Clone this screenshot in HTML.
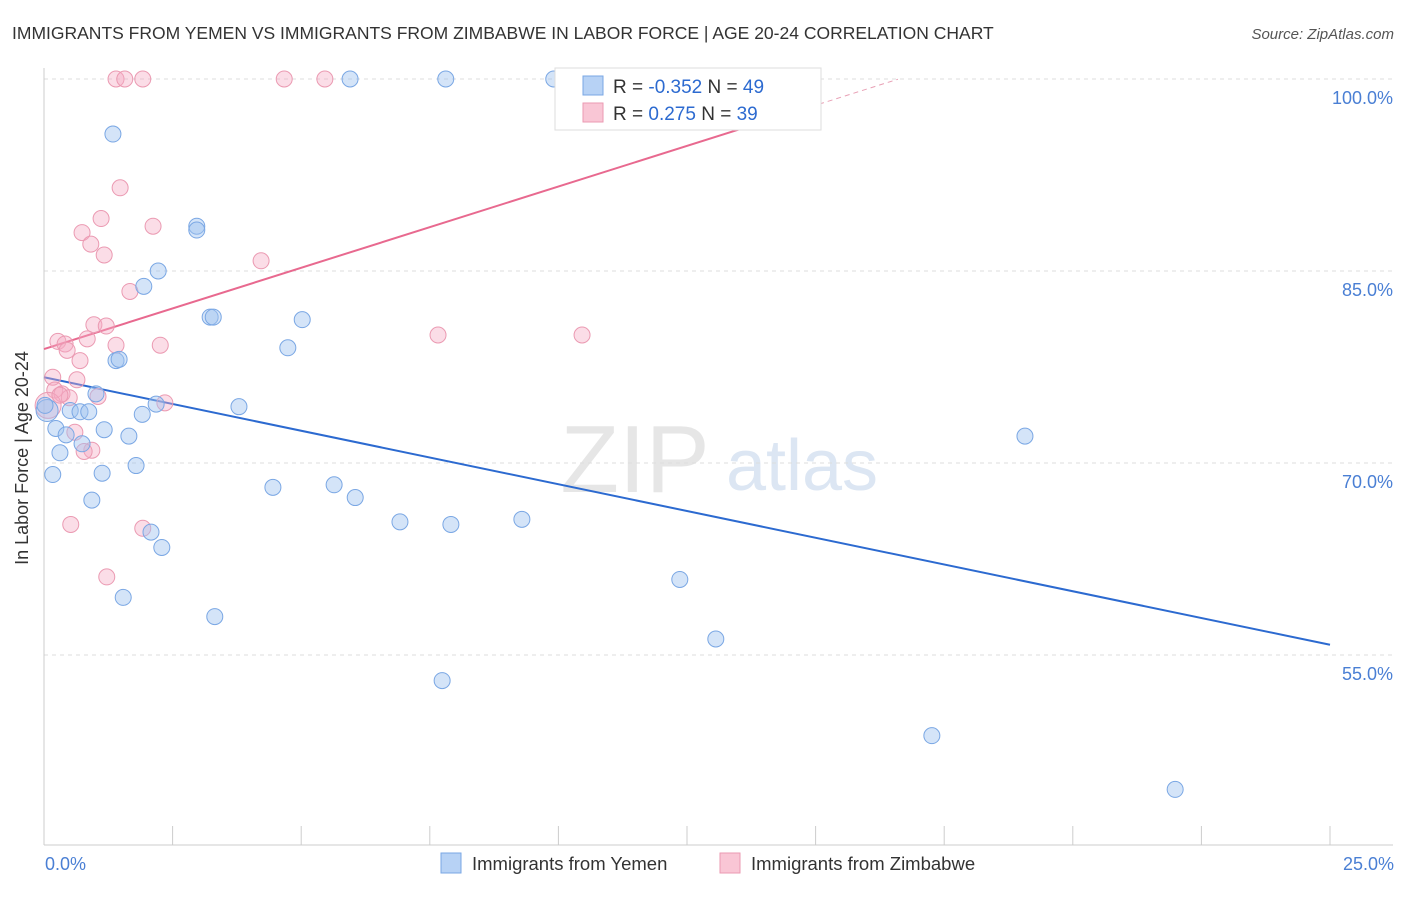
<!DOCTYPE html>
<html><head><meta charset="utf-8"><style>
body{margin:0;background:#fff;font-family:"Liberation Sans",sans-serif;}
svg text{font-family:"Liberation Sans",sans-serif;}
</style></head><body>
<svg width="1406" height="892" viewBox="0 0 1406 892">
<text x="12" y="39" font-size="17.5" fill="#333">IMMIGRANTS FROM YEMEN VS IMMIGRANTS FROM ZIMBABWE IN LABOR FORCE | AGE 20-24 CORRELATION CHART</text>
<text x="1394" y="39" font-size="15" fill="#555" font-style="italic" text-anchor="end">Source: ZipAtlas.com</text>
<g>
<text x="635" y="492" font-size="96" fill="#e6e6e6" font-family="Liberation Serif" text-anchor="middle">ZIP</text>
<text x="802" y="490" font-size="72" fill="#dce6f3" text-anchor="middle">atlas</text>
</g>
<g id="grid"></g>
<g id="axes"></g>
<g id="trends"></g>
<g id="points"></g>
<text x="28" y="458" font-size="18" fill="#333" text-anchor="middle" transform="rotate(-90 28 458)">In Labor Force | Age 20-24</text>
<text x="45" y="870" font-size="18" fill="#4a7fd4">0.0%</text>
<text x="1394" y="870" font-size="18" fill="#4a7fd4" text-anchor="end">25.0%</text>
<g>
<rect x="555" y="68" width="266" height="62" fill="#fff" stroke="#ddd"/>
<rect x="583" y="76" width="20" height="19" fill="#b7d2f5" stroke="#7aa7e4"/>
<rect x="583" y="103" width="20" height="19" fill="#f9c6d5" stroke="#eb9ab2"/>
<text x="613" y="93" font-size="19" fill="#333">R = <tspan fill="#2c6ad0">-0.352</tspan>   N = <tspan fill="#2c6ad0">49</tspan></text>
<text x="613" y="120" font-size="19" fill="#333">R =   <tspan fill="#2c6ad0">0.275</tspan>   N = <tspan fill="#2c6ad0">39</tspan></text>
</g>
<g>
<rect x="441" y="853" width="20" height="20" fill="#b7d2f5" stroke="#7aa7e4"/>
<text x="472" y="870" font-size="18.5" fill="#333">Immigrants from Yemen</text>
<rect x="720" y="853" width="20" height="20" fill="#f9c6d5" stroke="#eb9ab2"/>
<text x="751" y="870" font-size="18.5" fill="#333">Immigrants from Zimbabwe</text>
</g>
</svg>
<script>
const yTicks=[100,85,70,55];
const yTickLabels=["100.0%","85.0%","70.0%","55.0%"];
const xTicks=[0,2.5,5,7.5,10,12.5,15,17.5,20,22.5,25];
const yemenX=[1.34,5.95,7.81,9.91,2.97,2.97,2.22,1.94,3.23,3.29,5.02,4.74,1.40,1.46,1.01,2.18,3.79,1.91,0.51,0.70,0.87,0.23,0.43,1.17,1.65,0.31,0.74,0.17,1.13,1.79,0.93,4.45,5.64,6.05,6.92,7.91,9.29,2.08,2.29,1.54,3.32,12.36,13.06,7.74,17.26,21.99,19.07,0.06,0.02];
const yemenY=[95.7,100,100,100,88.5,88.2,85.0,83.8,81.4,81.4,81.2,79.0,78.0,78.1,75.4,74.6,74.4,73.8,74.1,74.0,74.0,72.7,72.2,72.6,72.1,70.8,71.5,69.1,69.2,69.8,67.1,68.1,68.3,67.3,65.4,65.2,65.6,64.6,63.4,59.5,58.0,60.9,56.25,53.0,48.7,44.5,72.1,74.1,74.5];
const zimX=[1.40,1.57,1.92,4.67,5.46,1.48,1.11,2.12,0.74,0.91,1.17,4.22,1.67,0.97,1.21,0.27,0.41,0.84,1.40,2.26,0.45,0.70,7.66,10.46,0.17,0.64,0.21,0.35,0.49,1.05,2.35,0.60,0.93,0.78,0.52,1.92,1.22,0.08,0.31];
const zimY=[100,100,100,100,100,91.5,89.1,88.5,88.0,87.1,86.25,85.8,83.4,80.8,80.7,79.5,79.3,79.7,79.2,79.2,78.8,78.0,80.0,80.0,76.7,76.5,75.7,75.4,75.1,75.2,74.7,72.4,71.0,70.9,65.2,64.9,61.1,74.5,75.3];
const yemenTrend=[76.7,55.8]; // y at x=0 and x=25
const zimTrend=[78.9,1.27,13.9,16.6]; // intercept, slope, solid end x, dashed end x
const NS="http://www.w3.org/2000/svg";
const X=v=>44+v*51.44, Y=v=>79+(100-v)*12.8;
function mk(p,tag,a){const e=document.createElementNS(NS,tag);for(const k in a)e.setAttribute(k,a[k]);document.getElementById(p).appendChild(e);return e;}
yTicks.forEach((t,i)=>{
 const l=mk('grid','line',{x1:44,x2:1393,y1:Y(t),y2:Y(t),stroke:'#ddd','stroke-dasharray':'4,4'});
 
 
 const tx=mk('grid','text',{x:1393,y:Y(t)+25,'font-size':18,fill:'#4a7fd4','text-anchor':'end'});
 tx.textContent=yTickLabels[i];
 
 
});
const ax=mk('axes','line',{x1:44,x2:1393,y1:845,y2:845,stroke:'#ccc'});


const ay=mk('axes','line',{x1:44,x2:44,y1:68,y2:845,stroke:'#ccc'});


xTicks.forEach(t=>{
 const l=mk('axes','line',{x1:X(t),x2:X(t),y1:826,y2:845,stroke:'#ccc'});
 
 
});
const bt=mk('trends','line',{x1:X(0),y1:Y(yemenTrend[0]),x2:X(25),y2:Y(yemenTrend[1]),stroke:'#2c6ad0','stroke-width':2});


const zy=x=>zimTrend[0]+zimTrend[1]*x;
const pt=mk('trends','line',{x1:X(0),y1:Y(zy(0)),x2:X(zimTrend[2]),y2:Y(zy(zimTrend[2])),stroke:'#e8698f','stroke-width':2});


const pd=mk('trends','line',{x1:X(zimTrend[2]),y1:Y(zy(zimTrend[2])),x2:X(zimTrend[3]),y2:Y(zy(zimTrend[3])),stroke:'#e8a0b5','stroke-width':1,'stroke-dasharray':'5,4'});


zimX.forEach((x,i)=>{
 const r=(i==37)?13:8;
 const c=mk('points','circle',{cx:X(x),cy:Y(zimY[i]),r:r,fill:'rgba(245,170,195,0.4)',stroke:'#eb9ab2','stroke-width':1});
 
 
});
yemenX.forEach((x,i)=>{
 const r=(i==47)?11:8;
 const c=mk('points','circle',{cx:X(x),cy:Y(yemenY[i]),r:r,fill:'rgba(160,195,240,0.45)',stroke:'#7aa7e4','stroke-width':1});
 
 
});
</script>
</body></html>
